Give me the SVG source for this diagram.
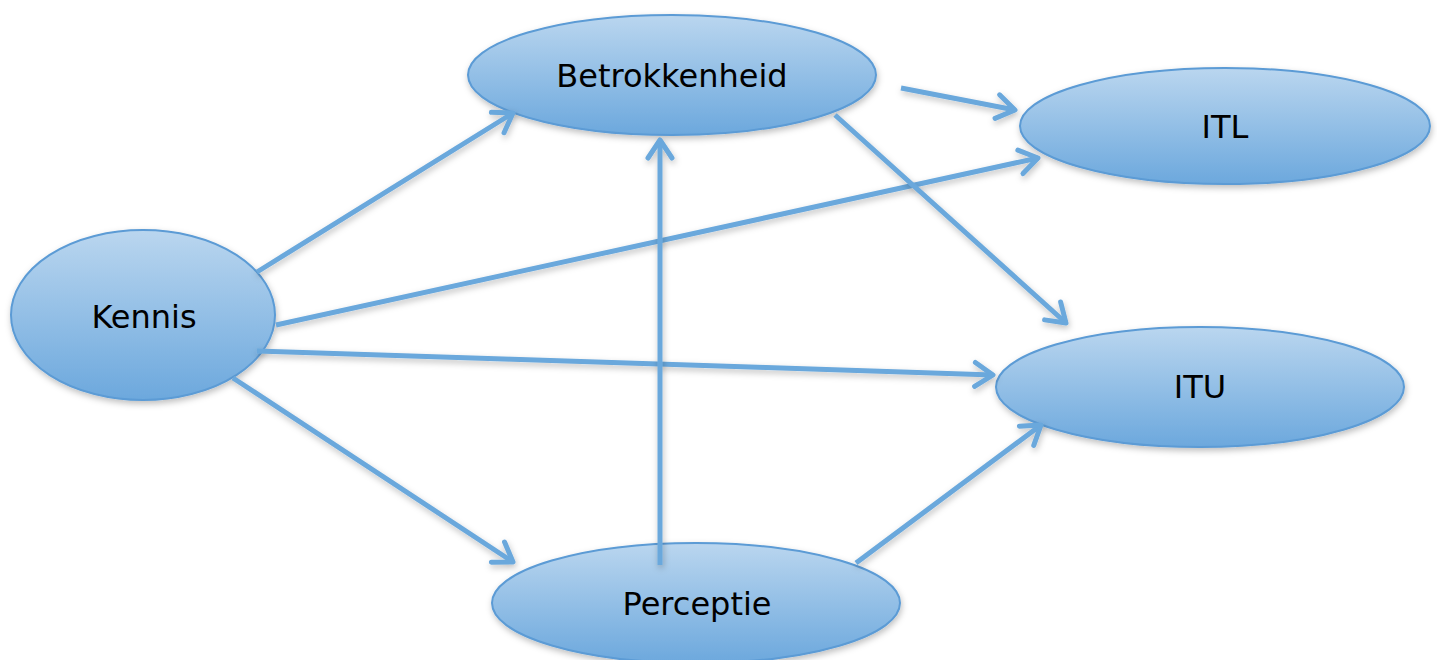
<svg xmlns="http://www.w3.org/2000/svg" width="1437" height="660" viewBox="0 0 1437 660">
  <defs>
    <linearGradient id="fill" x1="0" y1="0" x2="0" y2="1">
      <stop offset="0" stop-color="#bad6ef"/>
      <stop offset="1" stop-color="#6ca8dd"/>
    </linearGradient>
    <filter id="shadow" filterUnits="userSpaceOnUse" x="0" y="0" width="1437" height="660">
      <feDropShadow dx="1" dy="3" stdDeviation="3" flood-color="#000" flood-opacity="0.25"/>
    </filter>
    <marker id="chevron" markerUnits="userSpaceOnUse" markerWidth="40" markerHeight="40" viewBox="-24 -20 40 40" refX="0" refY="0" orient="auto">
      <path d="M-18,-12 L0,0 L-18,12" fill="none" stroke="#6aa8dc" stroke-width="5" stroke-linecap="round" stroke-linejoin="round"/>
    </marker>
    <style>
      .node ellipse { fill: url(#fill); stroke: #5b9bd5; stroke-width: 2; filter: url(#shadow); }
      .node text { font-family: "DejaVu Sans", Verdana, sans-serif; font-size: 32px; fill: #000; text-anchor: middle; dominant-baseline: central; }
      .edges line { stroke: #6aa8dc; stroke-width: 5; marker-end: url(#chevron); filter: url(#shadow); }
    </style>
  </defs>

  <g id="betrokkenheid" class="node">
    <ellipse cx="672" cy="75" rx="204" ry="60"/>
    <text x="672" y="76">Betrokkenheid</text>
  </g>
  <g id="itl" class="node">
    <ellipse cx="1225" cy="126" rx="205" ry="58"/>
    <text x="1225" y="127">ITL</text>
  </g>
  <g id="kennis" class="node">
    <ellipse cx="143" cy="315" rx="132" ry="85"/>
    <text x="144" y="317">Kennis</text>
  </g>
  <g id="itu" class="node">
    <ellipse cx="1200" cy="387" rx="204" ry="60"/>
    <text x="1200" y="387">ITU</text>
  </g>
  <g id="perceptie" class="node">
    <ellipse cx="696" cy="603" rx="204" ry="60"/>
    <text x="697" y="604">Perceptie</text>
  </g>

  <g id="connectors" class="edges">
    <line x1="257" y1="272" x2="513" y2="113"/>
    <line x1="276" y1="325" x2="1038" y2="158"/>
    <line x1="257" y1="351" x2="993" y2="375"/>
    <line x1="233" y1="378" x2="513" y2="562"/>
    <line x1="660" y1="565" x2="660" y2="140"/>
    <line x1="901" y1="88" x2="1015" y2="110"/>
    <line x1="835" y1="115" x2="1066" y2="323"/>
    <line x1="856" y1="563" x2="1041" y2="425"/>
  </g>
</svg>
